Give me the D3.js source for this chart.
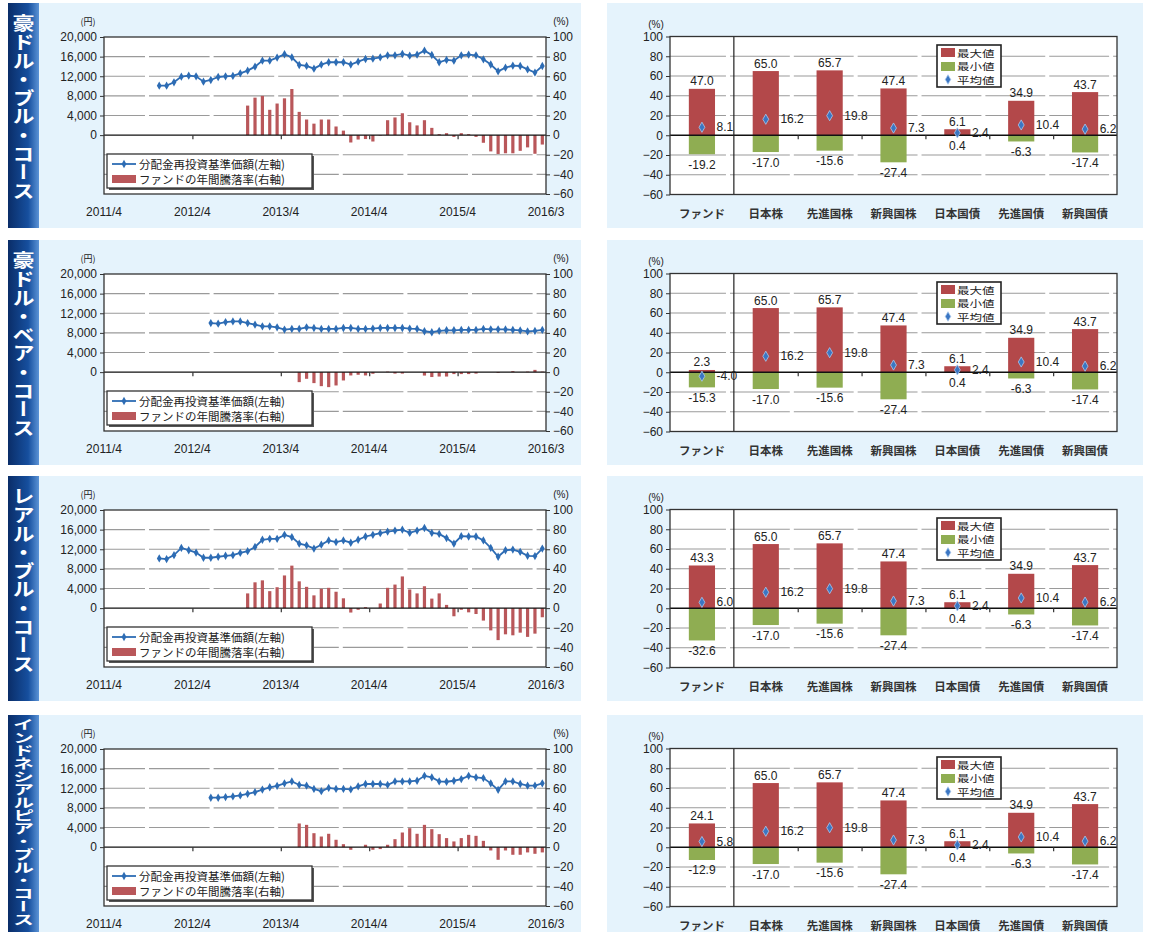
<!DOCTYPE html>
<html><head><meta charset="utf-8">
<script src="https://cdn.jsdelivr.net/npm/d3@7"></script>
<style>body{margin:0;background:#fff;} svg{display:block;}</style>
</head><body>
<svg id="c" width="1149" height="932"></svg>
<script>
// ---------------- DATA ----------------
const months = [
 "2011/4","2011/5","2011/6","2011/7","2011/8","2011/9","2011/10","2011/11","2011/12","2012/1","2012/2","2012/3",
 "2012/4","2012/5","2012/6","2012/7","2012/8","2012/9","2012/10","2012/11","2012/12","2013/1","2013/2","2013/3",
 "2013/4","2013/5","2013/6","2013/7","2013/8","2013/9","2013/10","2013/11","2013/12","2014/1","2014/2","2014/3",
 "2014/4","2014/5","2014/6","2014/7","2014/8","2014/9","2014/10","2014/11","2014/12","2015/1","2015/2","2015/3",
 "2015/4","2015/5","2015/6","2015/7","2015/8","2015/9","2015/10","2015/11","2015/12","2016/1","2016/2","2016/3"];
const panelTitles = ["豪ドル・ブル・コース","豪ドル・ベア・コース","レアル・ブル・コース","インドネシアルピア・ブル・コース"];

// 分配金再投資基準価額 (円), monthly from navStart
const navStart = ["2011/11","2012/6","2011/11","2012/6"];
const nav1 = [10080,10080,10760,11920,12120,11990,10900,11240,11850,11990,12060,12600,13140,13960,15180,15180,15800,16480,15860,14300,14100,13550,14370,14850,14850,14850,14370,14980,15520,15590,15860,16270,16270,16540,16200,16400,17220,16330,14850,15320,15180,16270,16400,16270,15450,14400,13000,13750,14160,14090,13400,12750,14090];
const nav2 = [10000,9870,10200,10330,10330,10000,9670,9330,9330,9130,8670,8800,8800,9130,9000,8800,8800,8800,9000,9000,8800,8800,8870,9000,9000,9000,9000,8870,8800,8330,8130,8400,8530,8530,8600,8600,8600,8800,8730,8730,8700,8600,8500,8300,8400,8600];
const nav3 = [10130,10000,10800,12270,11800,11330,10270,10270,10470,10670,10800,11270,11600,12470,13930,14130,14130,14930,14470,13130,12800,12130,12930,13800,13470,13800,13330,13930,14600,14930,15270,15600,15800,16000,15330,15800,16330,15330,15130,14270,13130,14670,14600,14600,13800,12270,10470,11800,11930,11470,10670,10600,12130];
const nav4 = [10070,10070,10200,10330,10530,10870,11200,11730,12200,12470,13000,13400,12670,12530,11870,11400,12070,11870,11870,11770,12400,12870,12870,12870,12670,13400,13400,13400,13530,14530,14200,13400,13330,13530,13870,14530,14200,14070,13000,11670,13400,13400,12870,12530,12530,13000];

// ファンドの年間騰落率 (%), monthly from retStart
const retStart = ["2012/11","2013/6","2012/11","2013/6"];
const ret1 = [30.1,38.2,40,25.8,32.2,37.5,47.0,23.7,15.9,11.7,15.9,15.9,8.8,4.6,-7.5,-4.5,-4,-6.5,-0.5,15.2,18,22.3,13.1,9.9,15.2,7.4,1,2,-1.8,2,1,-1.8,-7.8,-16.6,-19.2,-18.5,-18.5,-16,-12.5,-19,-9.6];
const ret2 = [-10.2,-6.8,-11.2,-14.3,-15.3,-13.6,-8.5,-3.4,-2.7,-3.4,-1.7,0,0.5,-1.5,-1.5,0,0,-3.5,-5,-4.5,-4.5,-2,-2,-2,-1.5,0,0,-0.8,0,1,0,0.5,2.3,0.5];
const ret3 = [15,26.3,28.3,17.3,21.3,33.3,43.3,27.3,21.7,13,19.7,20.7,16.7,10,-4.5,-1.7,1,0,4.7,20.7,24,32.3,19,15,22.3,9.7,15,3.3,-8.3,-1.7,-4.3,-6,-12.7,-22.7,-32.6,-26.7,-27.7,-25,-29.3,-26,-9.3];
const ret4 = [24.1,22.7,14.2,10.8,13.6,7.5,3,-2.7,0,2.4,-2.7,-2,2.4,8.1,14.9,19.3,13.6,22.7,18.3,13.2,9.2,5.8,9.2,12.5,11.5,6.4,-3.4,-12.9,-3.4,-7.8,-7.8,-5.4,-6.8,-5.4];

const leftYTicks = [0,4000,8000,12000,16000,20000];
const pctTicks = [100,80,60,40,20,0,-20,-40,-60];
const xTickLabels = ["2011/4","2012/4","2013/4","2014/4","2015/4","2016/3"];
const xTickIdx = [0,12,24,36,48,60];
const legendLeft = ["分配金再投資基準価額(左軸)","ファンドの年間騰落率(右軸)"];

const assetCats = ["ファンド","日本株","先進国株","新興国株","日本国債","先進国債","新興国債"];
const assetMax = [65.0,65.7,47.4,6.1,34.9,43.7];
const assetMin = [-17.0,-15.6,-27.4,0.4,-6.3,-17.4];
const assetAvg = [16.2,19.8,7.3,2.4,10.4,6.2];
const fundMax = [47.0,2.3,43.3,24.1];
const fundMin = [-19.2,-15.3,-32.6,-12.9];
const fundAvg = [8.1,-4.0,6.0,5.8];
const legendRight = ["最大値","最小値","平均値"];

const navs = [nav1,nav2,nav3,nav4];
const rets = [ret1,ret2,ret3,ret4];

// ---------------- STYLE ----------------
const panelTops = [0,237,473,712];
const NUM = "'Liberation Sans', Arial, 'Noto Sans CJK JP', sans-serif";
const JP = "'Noto Sans CJK JP', 'Noto Sans', sans-serif";
const BG = "#e5f3fc";
const RED = "#b3484a", GREEN = "#8fad52", BLUE = "#2d6cb4", BAR = "#b9575a";
const TXT = "#222";

const svg = d3.select("#c");
const defs = svg.append("defs");
const g = defs.append("linearGradient").attr("id","side").attr("x1","0").attr("x2","1").attr("y1","0").attr("y2","0");
g.append("stop").attr("offset","0%").attr("stop-color","#0a2d68");
g.append("stop").attr("offset","65%").attr("stop-color","#164f9e");
g.append("stop").attr("offset","100%").attr("stop-color","#5b93d6");

panelTops.forEach((T, p) => {
  // backgrounds
  svg.append("rect").attr("x",8).attr("y",T+3).attr("width",31).attr("height",225).attr("fill","url(#side)");
  svg.append("rect").attr("x",39).attr("y",T+3).attr("width",542).attr("height",225).attr("fill",BG);
  svg.append("rect").attr("x",607).attr("y",T+3).attr("width",536).attr("height",225).attr("fill",BG);

  // sidebar vertical title (one vertical text element, squeezed to fit)
  const title = panelTitles[p];
  const n = Array.from(title).length;
  const long = n > 12;
  const fs = long ? 21 : 22;
  const top = long ? T+6 : T+14;
  const len = long ? 208 : 186;
  const sy = len / (n*fs);
  svg.append("text").text(title)
    .attr("transform",`translate(23.5,${top}) scale(1,${sy})`)
    .attr("x",0).attr("y",0)
    .style("writing-mode","vertical-rl")
    .attr("font-family",JP).attr("font-weight",700).attr("font-size",fs)
    .attr("fill","#fff");

  // ---------- LEFT CHART ----------
  const L = 104, R = 546;
  const x = d3.scaleBand().domain(months).range([L,R]);
  const bw = x.bandwidth();
  const xi = d3.scaleLinear().domain([0,60]).range([L,R]);
  const yP = d3.scaleLinear().domain([-60,100]).range([T+194,T+37]);
  const yY = d3.scaleLinear().domain([-12000,20000]).range([T+194,T+37]);

  svg.append("rect").attr("x",L).attr("y",yP(100)).attr("width",R-L).attr("height",yP(-60)-yP(100)).attr("fill","#fff");
  svg.append("g").selectAll("line").data([80,60,40,20,-20,-40]).join("line")
    .attr("x1",L).attr("x2",R).attr("y1",d=>yP(d)).attr("y2",d=>yP(d))
    .attr("stroke","#9a9a9a").attr("stroke-width",1.2)
    .attr("stroke-dasharray","60.6,4").attr("stroke-dashoffset",19.6);

  // bars
  const rs = months.indexOf(retStart[p]);
  const retData = rets[p].map((v,i)=>({m:months[rs+i], v}));
  svg.append("g").selectAll("rect").data(retData).join("rect")
    .attr("x",d=>x(d.m)+bw/2-1.6).attr("width",3.2)
    .attr("y",d=>yP(Math.max(0,d.v))).attr("height",d=>Math.abs(yP(d.v)-yP(0)))
    .attr("fill",BAR);

  // zero line + x ticks
  svg.append("line").attr("x1",L).attr("x2",R).attr("y1",yP(0)).attr("y2",yP(0)).attr("stroke","#111").attr("stroke-width",1.4);
  const xa = svg.append("g").attr("transform",`translate(0,${yP(0)})`)
    .call(d3.axisBottom(xi).tickValues([12,24,36,48]).tickSize(4).tickFormat(""));
  xa.select(".domain").remove();
  xa.selectAll("line").attr("stroke","#333").attr("stroke-width",1.2);

  // line
  const ns = months.indexOf(navStart[p]);
  const navData = navs[p].map((v,i)=>({m:months[ns+i], v}));
  svg.append("path").datum(navData)
    .attr("d", d3.line().x(d=>x(d.m)+bw/2).y(d=>yY(d.v)))
    .attr("fill","none").attr("stroke",BLUE).attr("stroke-width",1.8);
  svg.append("g").selectAll("path").data(navData).join("path")
    .attr("transform",d=>`translate(${x(d.m)+bw/2},${yY(d.v)})`)
    .attr("d", d3.symbol().type(d3.symbolDiamond).size(20)).attr("fill",BLUE);

  // frame
  svg.append("rect").attr("x",L).attr("y",yP(100)).attr("width",R-L).attr("height",yP(-60)-yP(100))
    .attr("fill","none").attr("stroke","#333").attr("stroke-width",1.3);

  // axes
  const ay = svg.append("g").attr("transform",`translate(${L},0)`)
    .call(d3.axisLeft(yY).tickValues(leftYTicks).tickSize(4).tickFormat(d3.format(",")));
  ay.select(".domain").remove();
  ay.selectAll("text").attr("font-family",NUM).attr("font-size",12).attr("fill",TXT);
  ay.selectAll("line").attr("stroke","#333");
  const ar = svg.append("g").attr("transform",`translate(${R},0)`)
    .call(d3.axisRight(yP).tickValues(pctTicks).tickSize(4));
  ar.select(".domain").remove();
  ar.selectAll("text").attr("font-family",NUM).attr("font-size",12).attr("fill",TXT);
  ar.selectAll("line").attr("stroke","#333");

  svg.append("text").text("(円)").attr("x",88).attr("y",T+21).attr("text-anchor","middle")
    .attr("dominant-baseline","central").attr("font-family",JP).attr("font-size",9).attr("fill",TXT);
  svg.append("text").text("(%)").attr("x",561).attr("y",T+21).attr("text-anchor","middle")
    .attr("dominant-baseline","central").attr("font-family",NUM).attr("font-size",10).attr("fill",TXT);

  svg.append("g").selectAll("text").data(xTickLabels).join("text")
    .text(d=>d).attr("x",(d,i)=>xi(xTickIdx[i])).attr("y",T+212)
    .attr("text-anchor","middle").attr("dominant-baseline","central")
    .attr("font-family",NUM).attr("font-size",12).attr("fill",TXT);

  // legend
  const lg = svg.append("g");
  lg.append("rect").attr("x",109).attr("y",T+156).attr("width",205).attr("height",34).attr("fill","#555");
  lg.append("rect").attr("x",107).attr("y",T+154).attr("width",205).attr("height",34).attr("fill","#fff").attr("stroke","#333").attr("stroke-width",1.3);
  lg.append("line").attr("x1",112).attr("x2",136).attr("y1",T+164).attr("y2",T+164).attr("stroke",BLUE).attr("stroke-width",1.8);
  lg.append("path").attr("transform",`translate(124,${T+164})`).attr("d",d3.symbol().type(d3.symbolDiamond).size(20)).attr("fill",BLUE);
  lg.append("rect").attr("x",112).attr("y",T+175).attr("width",24).attr("height",8).attr("fill",BAR);
  lg.selectAll("text").data(legendLeft).join("text").text(d=>d)
    .attr("x",139).attr("y",(d,i)=>T+164+i*15).attr("dominant-baseline","central")
    .attr("font-family",JP).attr("font-size",11.5).attr("fill",TXT);

  // ---------- RIGHT CHART ----------
  const RL = 670, RR = 1117;
  const xr = d3.scaleBand().domain(assetCats).range([RL,RR]);
  const step = xr.bandwidth();
  const xr2 = d3.scaleLinear().domain([0,7]).range([RL,RR]);
  const yR = d3.scaleLinear().domain([-60,100]).range([T+194.5,T+36.5]);
  const barW = step*0.41;
  const rows = assetCats.map((c,i)=>({
    c,
    max: i===0 ? fundMax[p] : assetMax[i-1],
    min: i===0 ? fundMin[p] : assetMin[i-1],
    avg: i===0 ? fundAvg[p] : assetAvg[i-1]
  }));

  svg.append("rect").attr("x",RL).attr("y",yR(100)).attr("width",RR-RL).attr("height",yR(-60)-yR(100)).attr("fill","#fff");
  svg.append("g").selectAll("line").data([80,60,40,20,-20,-40]).join("line")
    .attr("x1",RL).attr("x2",RR).attr("y1",d=>yR(d)).attr("y2",d=>yR(d))
    .attr("stroke","#9a9a9a").attr("stroke-width",1.2)
    .attr("stroke-dasharray",`${step-4},4`).attr("stroke-dashoffset",3.9);

  const cx = d => xr(d.c) + step/2;
  svg.append("g").selectAll("rect").data(rows).join("rect")
    .attr("x",d=>cx(d)-barW/2).attr("width",barW)
    .attr("y",d=>yR(Math.max(0,d.min))).attr("height",d=>Math.abs(yR(d.min)-yR(0)))
    .attr("fill",GREEN);
  svg.append("g").selectAll("rect").data(rows).join("rect")
    .attr("x",d=>cx(d)-barW/2).attr("width",barW)
    .attr("y",d=>yR(Math.max(0,d.max))).attr("height",d=>Math.abs(yR(d.max)-yR(0)))
    .attr("fill",RED);

  svg.append("line").attr("x1",RL).attr("x2",RR).attr("y1",yR(0)).attr("y2",yR(0)).attr("stroke","#111").attr("stroke-width",1.4);
  const xra = svg.append("g").attr("transform",`translate(0,${yR(0)})`)
    .call(d3.axisBottom(xr2).tickValues([2,3,4,5,6]).tickSize(4).tickFormat(""));
  xra.select(".domain").remove();
  xra.selectAll("line").attr("stroke","#333").attr("stroke-width",1.2);
  svg.append("line").attr("x1",xr2(1)).attr("x2",xr2(1)).attr("y1",yR(100)).attr("y2",yR(-60)).attr("stroke","#222").attr("stroke-width",1.2);

  svg.append("g").selectAll("path").data(rows).join("path")
    .attr("transform",d=>`translate(${cx(d)},${yR(d.avg)})`)
    .attr("d",d3.symbol().type(d3.symbolDiamond).size(30))
    .attr("fill","#3b76c3").attr("stroke","#a9c9ee").attr("stroke-width",0.8);

  const lab = sel => sel.attr("font-family",NUM).attr("font-size",12).attr("fill",TXT).attr("dominant-baseline","central");
  svg.append("g").selectAll("text").data(rows).join("text").call(lab)
    .text(d=>d.max.toFixed(1)).attr("x",cx).attr("y",d=>yR(d.max)-7.5).attr("text-anchor","middle");
  svg.append("g").selectAll("text").data(rows).join("text").call(lab)
    .text(d=>d.min.toFixed(1)).attr("x",cx).attr("y",d=>yR(Math.min(0,d.min))+10.5).attr("text-anchor","middle");
  svg.append("g").selectAll("text").data(rows).join("text").call(lab)
    .text(d=>d.avg.toFixed(1)).attr("x",d=>cx(d)+barW/2+1.5).attr("y",d=>yR(d.avg)).attr("text-anchor","start");

  svg.append("rect").attr("x",RL).attr("y",yR(100)).attr("width",RR-RL).attr("height",yR(-60)-yR(100))
    .attr("fill","none").attr("stroke","#333").attr("stroke-width",1.3);

  const ary = svg.append("g").attr("transform",`translate(${RL},0)`)
    .call(d3.axisLeft(yR).tickValues(pctTicks).tickSize(4));
  ary.select(".domain").remove();
  ary.selectAll("text").attr("font-family",NUM).attr("font-size",12).attr("fill",TXT);
  ary.selectAll("line").attr("stroke","#333");

  svg.append("text").text("(%)").attr("x",656).attr("y",T+24).attr("text-anchor","middle")
    .attr("dominant-baseline","central").attr("font-family",NUM).attr("font-size",10).attr("fill",TXT);

  svg.append("g").selectAll("text").data(assetCats).join("text").text(d=>d)
    .attr("x",d=>xr(d)+step/2).attr("y",T+213).attr("text-anchor","middle").attr("dominant-baseline","central")
    .attr("font-family",JP).attr("font-size",11.5).attr("font-weight",700).attr("fill","#333");

  // right legend
  const rg = svg.append("g");
  rg.append("rect").attr("x",937).attr("y",T+45).attr("width",64).attr("height",42).attr("fill","#fff").attr("stroke","#222").attr("stroke-width",1.6);
  rg.append("rect").attr("x",941).attr("y",T+48).attr("width",14).attr("height",9).attr("fill",RED);
  rg.append("rect").attr("x",941).attr("y",T+62).attr("width",14).attr("height",9).attr("fill",GREEN);
  rg.append("path").attr("transform",`translate(948,${T+79.5})`).attr("d",d3.symbol().type(d3.symbolDiamond).size(26))
    .attr("fill","#3b76c3").attr("stroke","#a9c9ee").attr("stroke-width",0.8);
  rg.selectAll("text").data(legendRight).join("text").text(d=>d)
    .attr("transform",(d,i)=>`translate(957,${T+52.5+i*13.6}) scale(1,0.74)`)
    .attr("dominant-baseline","central")
    .attr("font-family",JP).attr("font-size",12.5).attr("fill",TXT);
});
</script>
</body></html>
